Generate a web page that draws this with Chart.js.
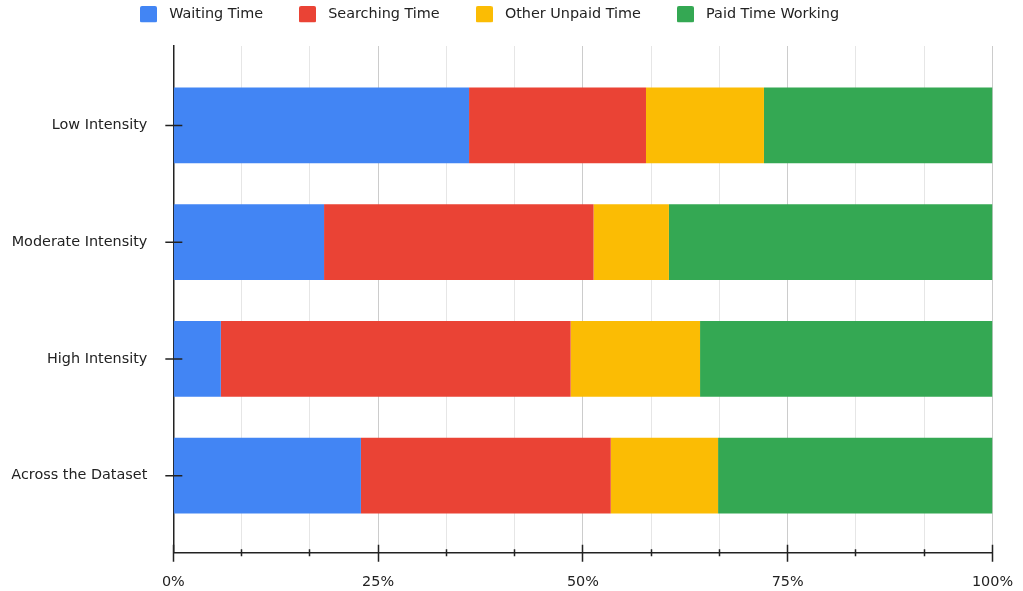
<!DOCTYPE html>
<html>
<head>
<meta charset="utf-8">
<title>Time Allocation by Work Intensity</title>
<script src="https://cdn.jsdelivr.net/npm/chart.js@4.4.1/dist/chart.umd.min.js"></script>
<style>
  html, body { margin: 0; padding: 0; background: #ffffff; }
  #wrap { position: relative; width: 1023px; height: 591px; }
</style>
</head>
<body>
<div id="wrap"><canvas id="chart"></canvas></div>
<script>
// Categories (rows, top to bottom) and series
const categories = ['Low Intensity', 'Moderate Intensity', 'High Intensity', 'Across the Dataset'];
const seriesNames = ['Waiting Time', 'Searching Time', 'Other Unpaid Time', 'Paid Time Working'];

// Share of time per category, in percent
const waitingTime     = [36.1, 18.4,  5.8, 22.9];
const searchingTime   = [21.6, 32.9, 42.7, 30.5];
const otherUnpaidTime = [14.4,  9.2, 15.8, 13.1];
const paidTimeWorking = [27.9, 39.5, 35.7, 33.5];

// Horizontal axis: a grid line every twelfth, labels every quarter
const xTickLabels = ['0%', '', '', '25%', '', '', '50%', '', '', '75%', '', '', '100%'];

const seriesColors = ['#4285F4', '#EA4335', '#FBBC04', '#34A853'];
const seriesValues = [waitingTime, searchingTime, otherUnpaidTime, paidTimeWorking];

const FONT = "'DejaVu Sans', Verdana, sans-serif";
const FONT_SIZE = 14.4;
const INK = '#222222';
const AXIS_W = 1.5;

Chart.defaults.font.family = FONT;
Chart.defaults.font.size = FONT_SIZE;
Chart.defaults.color = INK;

// Small rounded square used as the legend marker
function swatch(color) {
  const c = document.createElement('canvas');
  c.width = 17; c.height = 17;
  const g = c.getContext('2d');
  g.fillStyle = color;
  g.beginPath();
  if (g.roundRect) { g.roundRect(0, 0, 17, 17, 2); } else { g.rect(0, 0, 17, 17); }
  g.fill();
  return c;
}

const datasets = seriesNames.map((name, s) => ({
  label: name,
  data: seriesValues[s].map((v, i) => ({ x: v, y: i })),
  backgroundColor: seriesColors[s],
  borderWidth: 0,
  pointStyle: swatch(seriesColors[s])
}));

// Places the legend row at the top-left, above the plot
const legendPlacement = {
  id: 'legendPlacement',
  afterLayout(chart) {
    const lg = chart.legend;
    if (!lg) return;
    const pad = lg.options.labels.padding;
    const w = lg.right - lg.left;
    lg.left = 135 - pad;
    lg.right = lg.left + w;
    const h = lg.bottom - lg.top;
    lg.top = 14.5 - pad - FONT_SIZE / 2;
    lg.bottom = lg.top + h;
  }
};

// Axis tick marks that cross the axis lines
const crossTicks = {
  id: 'crossTicks',
  afterDraw(chart) {
    const { ctx, chartArea, scales: { x, y } } = chart;
    ctx.save();
    ctx.strokeStyle = INK;
    ctx.lineWidth = AXIS_W;
    ctx.beginPath();
    const axisX = chartArea.left;
    y.ticks.forEach(t => {
      const py = y.getPixelForValue(t.value);
      ctx.moveTo(axisX - 8, py);
      ctx.lineTo(axisX + 9, py);
    });
    const axisY = Math.round(chartArea.bottom - AXIS_W / 2) + AXIS_W / 2;
    x.ticks.forEach((t, i) => {
      const px = Math.round(x.getPixelForValue(t.value) - 0.5) + 0.5;
      const major = i % 3 === 0;
      ctx.moveTo(px, axisY - (major ? 8 : 3.5));
      ctx.lineTo(px, axisY + (major ? 9 : 3.5));
    });
    ctx.stroke();
    ctx.restore();
  }
};

new Chart(document.getElementById('chart'), {
  type: 'bar',
  data: { datasets },
  plugins: [legendPlacement, crossTicks],
  options: {
    indexAxis: 'y',
    responsive: true,
    maintainAspectRatio: false,
    animation: false,
    layout: { padding: { left: 11.3, right: 30.5, top: 0, bottom: 0 } },
    datasets: { bar: { categoryPercentage: 1, barPercentage: 0.65 } },
    plugins: {
      legend: {
        position: 'top',
        align: 'start',
        maxHeight: 46,
        labels: {
          usePointStyle: true,
          pointStyleWidth: 27,
          padding: 31,
          color: INK,
          font: { family: FONT, size: FONT_SIZE }
        }
      },
      tooltip: { enabled: true }
    },
    scales: {
      x: {
        type: 'linear',
        stacked: true,
        min: 0,
        max: 100,
        afterBuildTicks(scale) {
          scale.ticks = xTickLabels.map((_, i) => ({ value: i * 100 / (xTickLabels.length - 1) }));
        },
        grid: {
          drawTicks: true,
          tickLength: 20,
          tickColor: 'transparent',
          lineWidth: 1,
          color: c => (c.index % 3 === 0 ? '#cccccc' : '#e6e6e6')
        },
        border: { color: INK, width: AXIS_W },
        ticks: {
          autoSkip: false,
          maxRotation: 0,
          padding: 0.5,
          color: INK,
          callback: (v, i) => xTickLabels[i]
        }
      },
      y: {
        type: 'linear',
        stacked: true,
        reverse: true,
        offset: false,
        min: -0.68,
        max: 3.66,
        z: 1,
        afterBuildTicks(scale) {
          scale.ticks = categories.map((_, i) => ({ value: i }));
        },
        grid: {
          offset: false,
          drawOnChartArea: false,
          drawTicks: true,
          tickLength: 26,
          tickColor: 'transparent'
        },
        border: { color: INK, width: AXIS_W },
        ticks: {
          padding: 0,
          color: INK,
          callback: v => categories[v]
        }
      }
    }
  }
});
</script>
</body>
</html>
